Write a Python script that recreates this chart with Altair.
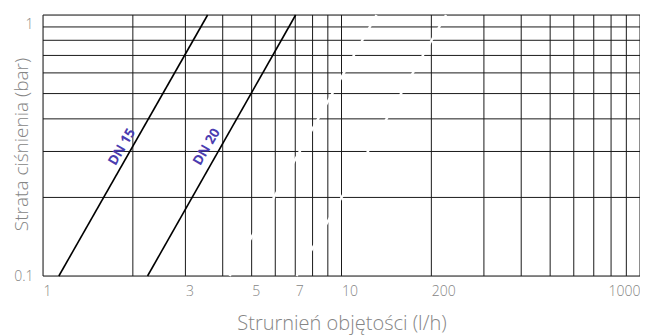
import altair as alt
import pandas as pd

# grid positions
x_grid = [1, 2, 3, 4, 5, 6, 7, 8, 9, 10, 20, 30, 40, 50, 60, 70, 80, 90, 100]
y_grid = [0.1, 0.2, 0.3, 0.4, 0.5, 0.6, 0.7, 0.8, 0.9, 1.0]

# tick labels (as printed on the original)
x_tick_values = [1, 3, 5, 7, 10, 20, 100]
x_tick_labels = ["1", "3", "5", "7", "10", "200", "1000"]
y_tick_values = [0.1, 1]
y_tick_labels = ["0.1", "1"]

# visible curves: flow at 0.1 bar and at 1 bar
series_names = ["DN 15", "DN 20"]
flow_at_low = [1.13, 2.24]
flow_at_high = [3.56, 7.02]

# white (hidden) curves
hidden_names = ["A", "B"]
hidden_at_low = [4.22, 7.07]
hidden_at_high = [13.1, 22.4]

pressure_low = 0.1
pressure_high = 1.0

# label anchor positions
label_x = [1.84, 3.54]
label_y = [0.312, 0.312]


def expr_from(values, labels):
    e = "''"
    for v, l in reversed(list(zip(values, labels))):
        e = f"abs(datum.value - {v}) < 1e-6 ? '{l}' : ({e})"
    return e


lines = pd.DataFrame(
    [{"name": n, "x": lo, "y": pressure_low} for n, lo in zip(series_names, flow_at_low)]
    + [{"name": n, "x": hi, "y": pressure_high} for n, hi in zip(series_names, flow_at_high)]
)
hidden = pd.DataFrame(
    [{"name": n, "x": lo, "y": pressure_low} for n, lo in zip(hidden_names, hidden_at_low)]
    + [{"name": n, "x": hi, "y": pressure_high} for n, hi in zip(hidden_names, hidden_at_high)]
)
labels = pd.DataFrame({"name": series_names, "x": label_x, "y": label_y})
xg = pd.DataFrame({"x": x_grid})
yg = pd.DataFrame({"y": y_grid})

FONT = "Open Sans"
GRAY = "#858585"

xs = alt.Scale(type="log", domain=[1, 100], nice=False)
ys = alt.Scale(type="log", domain=[0.1, 1], nice=False)

xaxis = alt.Axis(
    values=x_tick_values,
    labelExpr=expr_from(x_tick_values, x_tick_labels),
    grid=False, ticks=False, domain=False,
    labelFont=FONT, labelFontSize=14, labelFontWeight=300, labelColor=GRAY,
    labelAlign={"condition": {"test": "datum.value == 100", "value": "right"}, "value": "left"},
    labelPadding=8,
    title="Strurnień objętości (l/h)",
    titleFont=FONT, titleFontSize=20, titleFontWeight=300, titleColor=GRAY,
    titleY=53, titleBaseline="alphabetic",
)
yaxis = alt.Axis(
    values=y_tick_values,
    labelExpr=expr_from(y_tick_values, y_tick_labels),
    grid=False, ticks=False, domain=False,
    labelFont=FONT, labelFontSize=14, labelFontWeight=300, labelColor=GRAY,
    labelOffset={"condition": {"test": "datum.value == 1", "value": 9}, "value": 0},
    labelPadding=10,
    title="Strata ciśnienia (bar)",
    titleFont=FONT, titleFontSize=19, titleFontWeight=300, titleColor=GRAY,
    titleX=-22, titleY=129, titleBaseline="middle",
)

X = alt.X("x:Q", scale=xs, axis=xaxis)
Y = alt.Y("y:Q", scale=ys, axis=yaxis)

vgrid = alt.Chart(xg).mark_rule(color="#1a1a1a", strokeWidth=1).encode(x=X)
hgrid = alt.Chart(yg).mark_rule(color="#1a1a1a", strokeWidth=1).encode(y=Y)
white = alt.Chart(hidden).mark_line(color="white", strokeWidth=2.5).encode(
    x=X, y=Y, detail="name:N"
)
black = alt.Chart(lines).mark_line(color="black", strokeWidth=1.6).encode(
    x=X, y=Y, detail="name:N"
)
text = alt.Chart(labels).mark_text(
    angle=300, font=FONT, fontSize=13.5, fontWeight="bold", color="#4a3cb0",
    align="center", baseline="middle",
).encode(x=X, y=Y, text="name:N")

chart = alt.layer(vgrid, hgrid, white, black, text).properties(
    width=597, height=261,
    autosize=alt.AutoSizeParams(type="none"),
    padding={"left": 35, "top": 7, "right": 0, "bottom": 60},
).configure_view(strokeWidth=0).configure(background="white")

chart.save("out.html", embed_options={"renderer": "svg", "actions": False})
